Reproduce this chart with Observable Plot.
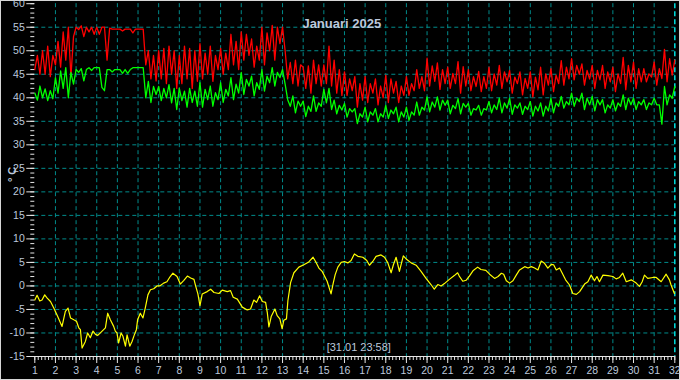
<!DOCTYPE html>
<html>
<head>
<meta charset="utf-8">
<script src="https://cdn.jsdelivr.net/npm/d3@7"></script>
<script src="https://cdn.jsdelivr.net/npm/@observablehq/plot@0.6"></script>
<style>
  html, body { margin: 0; padding: 0; background: #d6d6d6; overflow: hidden; }
  #wrap { width: 678px; height: 378px; padding: 1px; }
  #wrap svg { display: block; overflow: visible; }
</style>
</head>
<body>
<div id="wrap"></div>
<script>
// ---- tick labels ----
const xTicks = [1,2,3,4,5,6,7,8,9,10,11,12,13,14,15,16,17,18,19,20,21,22,23,24,25,26,27,28,29,30,31,32];
const yTicks = [-15,-10,-5,0,5,10,15,20,25,30,35,40,45,50,55,60];
const yGridVals = [-10,-5,0,5,10,15,20,25,30,35,40,45,50,55];
const xGridVals = [2,3,4,5,6,7,8,9,10,11,12,13,14,15,16,17,18,19,20,21,22,23,24,25,26,27,28,29,30,31];
const nowDay = 32;

// ---- red series (°C), 8 samples per day from day 1 ----
const redVals = [
  46, 49, 45, 50, 45, 51, 44.5, 49,
  47, 52, 46.5, 54, 48, 55, 44.5, 53,
  55, 54.5, 55.3, 53, 55, 54, 55, 53.5,
  55, 53.5, 55, 55, 48, 54.8, 54.6, 54.6,
  54.6, 54.6, 54.2, 54.6, 54.6, 54.6, 53.8, 54.6,
  54.6, 54.6, 54.6, 47, 50, 44, 49, 43.6,
  50, 44, 50.5, 43, 51, 45, 50, 42,
  49, 43, 51, 44, 50.5, 42, 50, 43.5,
  51.5, 44, 49.5, 45, 51, 43.5, 49, 46,
  50.5, 45, 49.5, 46, 53.5, 47, 52, 46,
  54, 48, 53.5, 49, 52.5, 46.5, 51, 48,
  55, 47, 53.8, 50, 55.4, 48, 55, 51.5,
  55, 50, 44, 47.5, 43, 48, 42.5, 47,
  46.5, 42, 46.8, 41, 48, 43, 47, 42.5,
  47, 43, 51, 42.5, 48, 41, 46, 40.5,
  45.5, 40.5, 44, 41.5, 44.5, 38, 43, 39.5,
  44.5, 39, 43, 41, 44, 38.5, 42.5, 40,
  44.8, 39, 44, 41, 43.5, 39, 42.5, 40.5,
  44.5, 40.5, 43, 41.5, 46, 42, 44.5, 41.5,
  48.4, 42.5, 46.8, 43.5, 47.4, 41.8, 46, 43,
  46.5, 42, 45.2, 43, 47.7, 41, 46.6, 42.5,
  46, 41.5, 44.5, 42.4, 45.6, 41.3, 44.5, 42,
  46.5, 41.5, 45.1, 42.7, 46.9, 42, 45.5, 43.4,
  45.8, 41, 44.4, 43, 45.5, 40.6, 44.1, 42,
  45.5, 40.2, 44.4, 41.7, 46.5, 40.6, 45.1, 42.7,
  46.2, 41.3, 44.8, 43, 47.9, 42.7, 46.5, 44,
  48.3, 43.8, 46.9, 45, 47.2, 42.7, 45.8, 44,
  46.9, 42, 45.8, 43.8, 46.9, 42, 45.5, 43.4,
  46.5, 41.3, 45.1, 43, 48.6, 41.7, 46.9, 43.4,
  47.6, 42, 46.2, 43.4, 46.2, 43.4, 45.1, 44.4,
  47.6, 42.7, 46.2, 44.1, 50.3, 43.4, 48.3, 44.8,
  48
];

// ---- green series (°C), 8 samples per day from day 1 ----
const greenVals = [
  41, 39.5, 42.5, 40, 41.9, 39.4, 41.5, 39.8,
  44.3, 41, 45.7, 42, 46.4, 40, 45.4, 42.9,
  46, 45.4, 46.2, 43.6, 46, 46.4, 45.8, 46.4,
  46.4, 46.4, 42.2, 41.5, 46, 46, 45.5, 46,
  46, 46, 45.2, 46, 45.2, 46, 46.4, 46.4,
  46.4, 46.4, 46.4, 40, 43.5, 39, 42.4, 40.7,
  42.4, 39.4, 42, 40, 42.8, 38.9, 42, 37.5,
  42, 39.4, 41.4, 38, 42, 39, 41.4, 38.2,
  43.2, 38, 41.8, 39.6, 42.5, 38.2, 41.1, 39.6,
  43.2, 39, 41.8, 40.4, 44.3, 39.6, 42.9, 41,
  45.4, 40.7, 43.9, 42.5, 44.6, 40.4, 43.2, 41.8,
  46, 41.4, 44.6, 43.2, 46.4, 42.5, 45.4, 44.3,
  46, 42.9, 39.6, 38.2, 40.4, 36.8, 39.3, 38.2,
  39.3, 36, 38.2, 37.1, 40.4, 37.1, 38.9, 38.2,
  41.8, 38.9, 42, 37.5, 39.5, 36.6, 38.4, 37.4,
  38.8, 35.9, 37.7, 37, 37.7, 34.5, 36.6, 35.9,
  38, 34.9, 37, 36.3, 37.7, 34.9, 36.6, 35.9,
  38.4, 35.6, 37.4, 36.6, 38, 34.9, 37, 35.9,
  38, 35.2, 37, 36.3, 39.1, 36.3, 38, 37.4,
  40.2, 37, 39.1, 38, 40.2, 37.4, 39.5, 38.4,
  39.5, 36.6, 38.4, 37.7, 39.8, 36.6, 38.8, 38,
  38.8, 36.3, 37.7, 37.4, 38.4, 36.3, 37.7, 37.4,
  39.2, 36.8, 38.5, 37.5, 39.9, 36.8, 38.9, 37.8,
  39.9, 36.5, 38.5, 37.8, 38.9, 36.5, 38.2, 37.5,
  39.2, 36.1, 38.2, 37.2, 38.9, 36.1, 38.2, 37.2,
  39.9, 36.8, 38.9, 38.2, 40.3, 37.8, 39.2, 38.5,
  41, 38.2, 39.9, 39.2, 41, 37.5, 39.9, 38.5,
  40.3, 37.2, 39.6, 38.5, 39.6, 36.8, 38.5, 37.8,
  39.6, 37.2, 38.9, 38.2, 40.6, 37.5, 39.9, 38.5,
  39.9, 37.5, 39.2, 38.5, 39.6, 37.5, 38.9, 38.5,
  39.9, 38.5, 38.5, 34.4, 42.4, 38.5, 40.6, 39.9,
  42.4
];

// ---- yellow series: day, °C ----
const yellowDays = [
  1.0,1.11,1.24,1.35,1.48,1.6,1.76,1.92,2.11,2.32,2.48,2.61,2.73,2.89,3.02,3.13,3.21,3.29,3.45,3.56,
  3.69,3.82,3.94,4.05,4.26,4.42,4.53,4.66,4.82,4.9,4.98,5.06,5.18,5.27,5.39,5.47,5.6,5.71,5.82,5.92,
  5.98,6.11,6.24,6.35,6.48,6.6,6.76,6.92,7.05,7.24,7.4,7.56,7.69,7.89,8.05,8.22,8.39,8.55,8.71,8.79,
  8.9,9.0,9.11,9.35,9.52,9.68,9.92,10.08,10.32,10.48,10.61,10.81,11.05,11.29,11.45,11.61,11.74,11.89,12.02,12.18,
  12.26,12.34,12.45,12.63,12.74,12.87,12.98,13.06,13.19,13.26,13.39,13.55,13.79,14.03,14.27,14.48,14.6,14.76,14.92,15.16,
  15.35,15.45,15.55,15.68,15.84,16.0,16.16,16.32,16.48,16.65,16.89,17.08,17.21,17.37,17.53,17.77,17.94,18.1,18.26,18.37,
  18.5,18.66,18.74,18.85,19.02,19.23,19.47,19.71,19.95,20.19,20.35,20.52,20.68,20.84,21.08,21.32,21.48,21.56,21.73,21.89,
  22.05,22.24,22.45,22.61,22.85,23.03,23.27,23.44,23.6,23.71,23.84,24.0,24.16,24.32,24.48,24.73,24.89,25.05,25.21,25.37,
  25.53,25.69,25.85,26.02,26.13,26.26,26.42,26.55,26.71,26.9,27.06,27.23,27.39,27.63,27.79,27.95,28.11,28.23,28.35,28.52,
  28.76,29.0,29.16,29.32,29.48,29.65,29.89,30.13,30.29,30.42,30.53,30.69,30.94,31.1,31.34,31.58,31.74,31.82,31.98
];
const yellowVals = [
  -3.0,-2.0,-3.2,-3.0,-1.9,-2.6,-3.3,-4.7,-6.5,-8.6,-5.4,-4.7,-6.8,-7.2,-7.5,-8.9,-9.3,-13.2,-11.8,-10,
  -11,-9.6,-10.3,-10.5,-9.6,-8.9,-5.8,-7.2,-8.6,-9.6,-10,-12.1,-10,-10.7,-12.8,-10.4,-12.8,-11.8,-10.4,-9.3,
  -7.2,-5.8,-6.8,-4.7,-1.9,-0.8,-0.6,0,0,0.6,0.9,2.0,2.7,2.0,0.4,1.2,2.1,1.7,1.4,0,
  -1.7,-4.2,-1.7,-1.2,-0.7,-1.4,-1.6,-0.9,-1.2,-1.0,-2.4,-2.8,-4.5,-5.1,-4.9,-3.0,-3.5,-2.1,-3.3,-3.5,
  -5.6,-8.7,-6.5,-4.9,-6.3,-7.0,-9.1,-7.3,-7.0,-3.1,0.7,2.8,4.0,4.5,5.1,6.1,5.2,3.8,3.1,1.0,
  -1.7,0.5,2.4,4.0,5.0,5.2,4.9,5.4,6.8,6.3,6.1,5.4,4.4,5.2,6.3,6.6,6.1,4.9,2.8,4.5,
  6.1,3.1,4.5,6.4,5.6,4.9,4.4,3.1,1.6,0.3,-0.7,0.3,0,0.5,1.4,2.2,2.8,2.1,1.0,1.2,
  2.1,3.3,4.0,3.5,3.3,2.5,1.6,2.0,2.7,2.5,1.1,0.6,1.1,2.3,3.4,4.1,3.8,4.1,3.8,3.4,
  5.3,4.8,3.8,4.6,4.5,3.4,3.8,2.7,1.3,0.2,-1.6,-1.8,-1.2,0.4,0.9,2.3,1.1,2.0,0.9,2.3,
  2.2,2.0,1.5,1.8,2.7,0.9,1.3,0.6,-0.1,0.9,2.3,1.6,1.8,1.8,0.9,2.5,1.3,0.2,-1.6
];

const title = "Januari 2025";
const stamp = "[31.01 23:58]";
const unit = "° C";

// build tables for the library
const red = redVals.map((v, i) => ({day: 1 + i / 8, v}));
const green = greenVals.map((v, i) => ({day: 1 + i / 8, v}));
const yellow = yellowDays.map((d, i) => ({day: d, v: yellowVals[i]}));
const yMinor = d3.range(-15, 61, 1);
const xMinor = d3.range(0, 31 * 6 + 1).map(i => 1 + i / 6);

const textColor = "#bcc8dc";
const tickColor = "#e6e6e6";
const gridColor = "#008b8b";

const chart = Plot.plot({
  width: 678,
  height: 378,
  marginLeft: 33.3,
  marginRight: 4.7,
  marginTop: 2.2,
  marginBottom: 23,
  style: {background: "#000", fontFamily: "'Liberation Sans', Arial, sans-serif", fontSize: "10px", color: textColor, overflow: "visible"},
  x: {domain: [1, 32]},
  y: {domain: [-15, 60]},
  marks: [
    Plot.gridY(yGridVals, {stroke: gridColor, strokeOpacity: 1, strokeDasharray: "4,3"}),
    Plot.gridX(xGridVals, {stroke: gridColor, strokeOpacity: 1, strokeDasharray: "4,3"}),
    Plot.ruleX([nowDay], {stroke: "#00dede", strokeWidth: 1.5, strokeDasharray: "5,3"}),
    Plot.line(red, {x: "day", y: "v", stroke: "#ff0000", strokeWidth: 1.3}),
    Plot.line(green, {x: "day", y: "v", stroke: "#00ff00", strokeWidth: 1.3}),
    Plot.line(yellow, {x: "day", y: "v", stroke: "#ffff00", strokeWidth: 1.2}),
    Plot.ruleY([-15], {stroke: tickColor}),
    Plot.axisY({ticks: yMinor, tickSize: 4, text: null, stroke: tickColor, label: null}),
    Plot.axisY({ticks: yTicks, tickSize: 8, tickPadding: 2, stroke: tickColor, fill: textColor, fontSize: 10.5, label: null, tickFormat: d => String(d)}),
    Plot.axisX({ticks: xMinor, tickSize: 4, text: null, stroke: tickColor, label: null}),
    Plot.axisX({ticks: xTicks, tickSize: 7, tickPadding: 3, stroke: tickColor, fill: textColor, fontSize: 10.5, label: null, tickFormat: d => String(d)}),
    Plot.text([title], {frameAnchor: "top", dx: -13, dy: 15, fill: textColor, fontWeight: "bold", fontSize: 13}),
    Plot.text([stamp], {frameAnchor: "bottom", dx: 4, dy: -6, fill: textColor, fontSize: 11}),
    Plot.text([unit], {frameAnchor: "left", dx: -22, dy: 2, rotate: -90, fill: textColor, fontWeight: "bold", fontSize: 11})
  ]
});
document.getElementById("wrap").appendChild(chart);
</script>
</body>
</html>
